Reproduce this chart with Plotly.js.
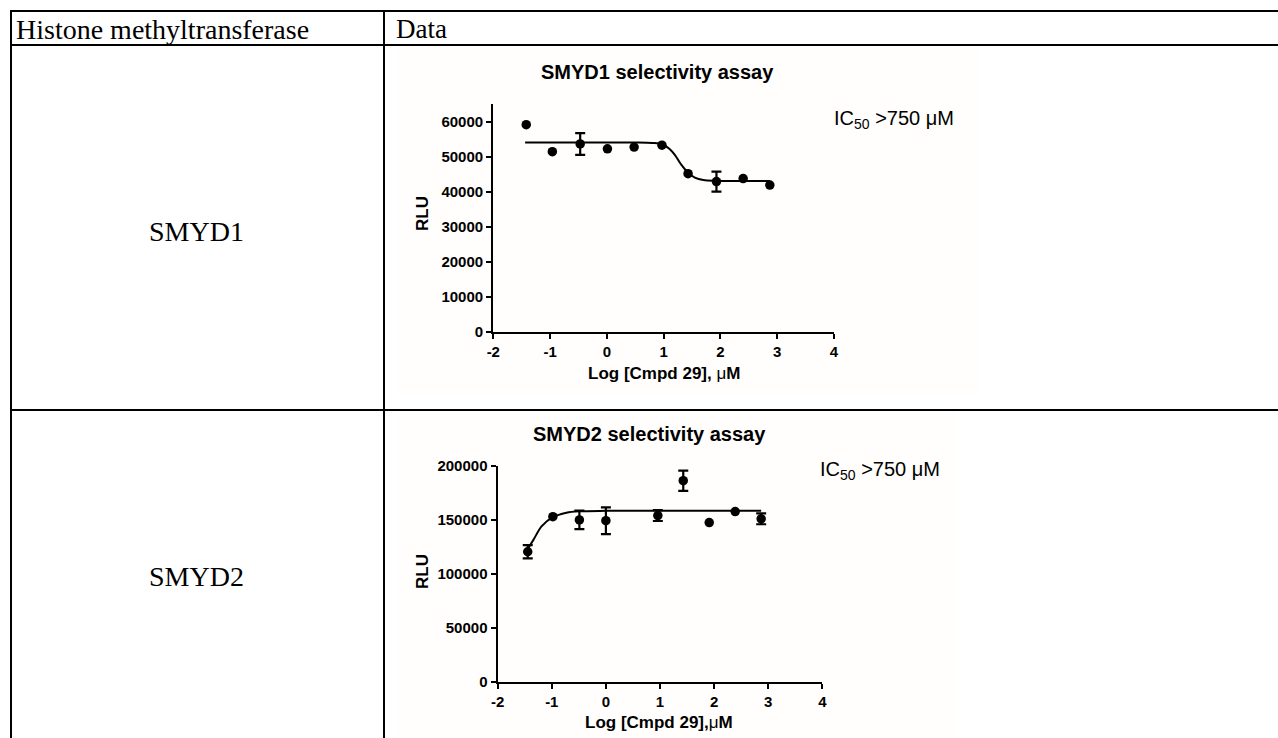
<!DOCTYPE html>
<html>
<head>
<meta charset="utf-8">
<script src="https://cdn.plot.ly/plotly-3.0.1.min.js"></script>
<style>html,body{margin:0;padding:0;background:#fff;}#chart{width:1278px;height:738px;}</style>
</head>
<body>
<div id="chart"></div>
<script>
// ---- data ----
const rowLabels = ["SMYD1", "SMYD2"];
const headerLabels = ["Histone methyltransferase", "Data"];
const chartTitles = ["SMYD1 selectivity assay", "SMYD2 selectivity assay"];
const xTitles = ["Log [Cmpd 29], <span style='font-weight:normal'>μ</span>M", "Log [Cmpd 29],<span style='font-weight:normal'>μ</span>M"];
const icLabel = "IC<sub>50</sub> &gt;750 μM";

const xTickVals = [-2, -1, 0, 1, 2, 3, 4];
const xTickText = ["-2", "-1", "0", "1", "2", "3", "4"];
const y1TickVals = [0, 10000, 20000, 30000, 40000, 50000, 60000];
const y1TickText = ["0", "10000", "20000", "30000", "40000", "50000", "60000"];
const y2TickVals = [0, 50000, 100000, 150000, 200000];
const y2TickText = ["0", "50000", "100000", "150000", "200000"];

const smyd1LogConc = [-1.42, -0.96, -0.47, 0.01, 0.48, 0.97, 1.43, 1.93, 2.40, 2.87];
const smyd1RLU     = [59100, 51400, 53600, 52200, 52700, 53250, 45100, 42850, 43700, 41850];
const smyd1Err     = [0, 0, 3100, 0, 0, 0, 0, 2850, 0, 0];
const smyd1FitX = [-1.44, 0.5, 0.8, 0.97, 1.1, 1.2, 1.3, 1.43, 1.55, 1.7, 1.9, 2.2, 2.87];
const smyd1FitY = [54000, 54000, 53900, 53600, 52200, 50400, 47900, 45400, 44000, 43300, 43080, 43020, 43000];

const smyd2LogConc = [-1.445, -0.98, -0.49, 0.0, 0.96, 1.43, 1.91, 2.39, 2.87];
const smyd2RLU     = [120500, 153000, 150000, 149300, 154000, 186400, 147500, 157700, 151000];
const smyd2Err     = [6200, 0, 8600, 12400, 5000, 9400, 0, 0, 5000];
const smyd2FitX = [-1.445, -1.34, -1.19, -0.98, -0.73, -0.49, 0, 1, 2, 2.87];
const smyd2FitY = [123000, 131500, 144000, 152500, 156700, 158000, 158400, 158600, 158600, 158600];

// ---- layout helpers (pixel -> paper) ----
const W = 1278, H = 738;
const px = v => v / W;
const py = v => 1 - v / H;

function pointTraces(xs, ys, errs, xa, ya) {
  const withErr = xs.map((x, i) => i).filter(i => errs[i] > 0);
  const noErr = xs.map((x, i) => i).filter(i => !(errs[i] > 0));
  const mk = {color: "#000", size: 9.5};
  return [
    {type: "scatter", mode: "markers", xaxis: xa, yaxis: ya, hoverinfo: "skip",
     x: noErr.map(i => xs[i]), y: noErr.map(i => ys[i]), marker: mk, cliponaxis: false},
    {type: "scatter", mode: "markers", xaxis: xa, yaxis: ya, hoverinfo: "skip",
     x: withErr.map(i => xs[i]), y: withErr.map(i => ys[i]), marker: mk, cliponaxis: false,
     error_y: {type: "data", array: withErr.map(i => errs[i]), visible: true, color: "#000", thickness: 2.2, width: 5}}
  ];
}

const traces = [
  {type: "scatter", mode: "lines", x: smyd1FitX, y: smyd1FitY, xaxis: "x", yaxis: "y",
   line: {color: "#000", width: 2, shape: "spline", smoothing: 0.8}, hoverinfo: "skip"},
  ...pointTraces(smyd1LogConc, smyd1RLU, smyd1Err, "x", "y"),
  {type: "scatter", mode: "lines", x: smyd2FitX, y: smyd2FitY, xaxis: "x2", yaxis: "y2",
   line: {color: "#000", width: 2, shape: "spline", smoothing: 0.8}, hoverinfo: "skip"},
  ...pointTraces(smyd2LogConc, smyd2RLU, smyd2Err, "x2", "y2")
];

const tickFont = {family: "Liberation Sans, Arial, sans-serif", size: 15, color: "#000", weight: "bold"};
function axisBase(extra) {
  return Object.assign({
    showline: true, linecolor: "#000", linewidth: 2.2, mirror: false,
    ticks: "outside", ticklen: 5, tickwidth: 2, tickcolor: "#000",
    showgrid: false, zeroline: false, automargin: false, fixedrange: true,
    tickmode: "array", tickfont: tickFont
  }, extra);
}

const layout = {
  width: W, height: H,
  margin: {l: 0, r: 0, t: 0, b: 0, pad: 0},
  paper_bgcolor: "#fff", plot_bgcolor: "rgba(0,0,0,0)",
  showlegend: false,
  xaxis: axisBase({domain: [px(493.3), px(834)], range: [-2, 4], anchor: "y", tickvals: xTickVals, ticktext: xTickText}),
  yaxis: axisBase({domain: [py(331.7), py(104)], range: [0, 65000], anchor: "x", tickvals: y1TickVals, ticktext: y1TickText}),
  xaxis2: axisBase({domain: [px(497.7), px(822.3)], range: [-2, 4], anchor: "y2", tickvals: xTickVals, ticktext: xTickText}),
  yaxis2: axisBase({domain: [py(681.7), py(466)], range: [0, 200000], anchor: "x2", tickvals: y2TickVals, ticktext: y2TickText}),
  shapes: [
    // faint background of the embedded graph images
    {type: "rect", layer: "below", xref: "paper", yref: "paper", x0: px(398), x1: px(978), y0: py(394), y1: py(46), fillcolor: "#fffefc", line: {width: 0}},
    {type: "rect", layer: "below", xref: "paper", yref: "paper", x0: px(398), x1: px(957), y0: py(738), y1: py(411), fillcolor: "#fffefc", line: {width: 0}},
    // table rules
    {type: "line", xref: "paper", yref: "paper", x0: px(10), x1: px(1278), y0: py(11), y1: py(11), line: {color: "#000", width: 2}},
    {type: "line", xref: "paper", yref: "paper", x0: px(10), x1: px(1278), y0: py(45), y1: py(45), line: {color: "#000", width: 2}},
    {type: "line", xref: "paper", yref: "paper", x0: px(10), x1: px(1278), y0: py(410), y1: py(410), line: {color: "#000", width: 2}},
    {type: "line", xref: "paper", yref: "paper", x0: px(11), x1: px(11), y0: py(10), y1: py(738), line: {color: "#000", width: 2}},
    {type: "line", xref: "paper", yref: "paper", x0: px(384), x1: px(384), y0: py(10), y1: py(738), line: {color: "#000", width: 2}}
  ],
  annotations: []
};

const serif = (s) => ({family: "Liberation Serif, Times New Roman, serif", size: s, color: "#000"});
const sansB = (s) => ({family: "Liberation Sans, Arial, sans-serif", size: s, color: "#000", weight: "bold"});
const sans = (s) => ({family: "Liberation Sans, Arial, sans-serif", size: s, color: "#000"});
function ann(text, x, y, font, opts) {
  layout.annotations.push(Object.assign({
    text: text, xref: "paper", yref: "paper", x: px(x), y: py(y),
    xanchor: "center", yanchor: "middle", showarrow: false, font: font
  }, opts || {}));
}

ann(headerLabels[0], 14, 29, serif(28), {xanchor: "left"});
ann(headerLabels[1], 394, 29, serif(27), {xanchor: "left"});
ann(rowLabels[0], 196, 231, serif(28));
ann(rowLabels[1], 196, 576, serif(28));

ann(chartTitles[0], 657, 72, sansB(20));
ann(chartTitles[1], 649, 434, sansB(20));
ann("RLU", 422, 214, sansB(17), {textangle: -90});
ann("RLU", 422, 572, sansB(17), {textangle: -90});
ann(xTitles[0], 664, 373, sansB(17));
ann(xTitles[1], 659, 722, sansB(17));
ann(icLabel, 832, 119, sans(20), {xanchor: "left"});
ann(icLabel, 818, 470, sans(20), {xanchor: "left"});

Plotly.newPlot("chart", traces, layout, {staticPlot: true, displayModeBar: false});
</script>
</body>
</html>
